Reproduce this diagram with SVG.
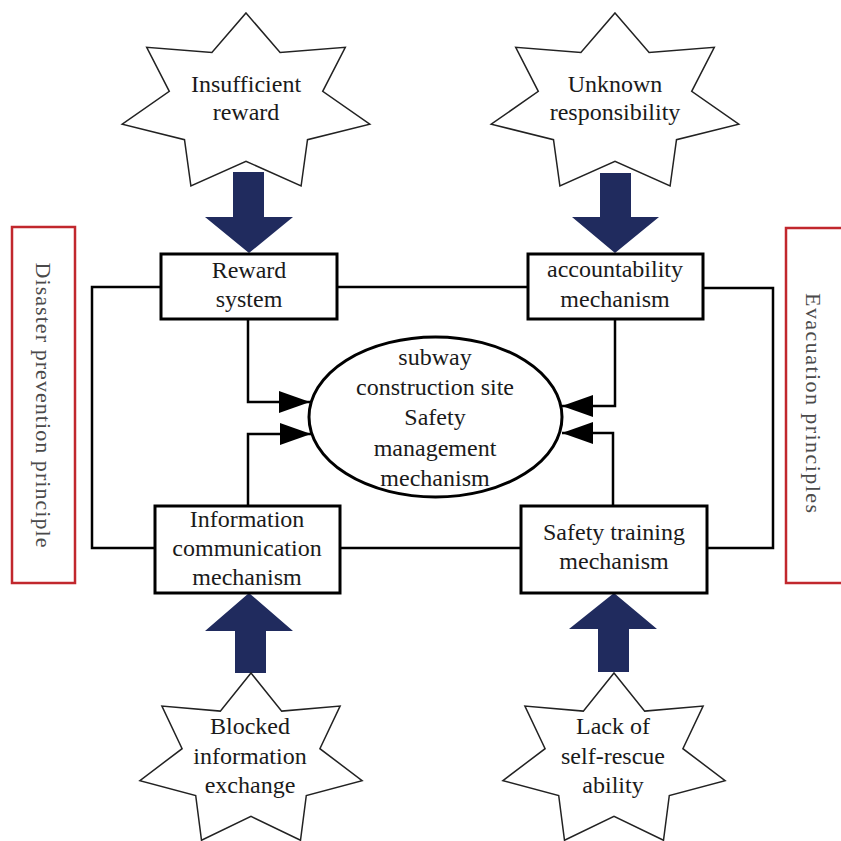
<svg xmlns="http://www.w3.org/2000/svg" width="841" height="841" viewBox="0 0 841 841">
<style>
  .t { font-family: "Liberation Serif", "Times New Roman", serif; font-size: 24px; fill: #1a1a1a; text-anchor: middle; }
  .side { font-family: "Liberation Serif", "Times New Roman", serif; font-size: 22px; fill: #4a4a4a; text-anchor: middle; }
  .star { fill: #ffffff; stroke: #222222; stroke-width: 1.5; stroke-linejoin: miter; }
  .box { fill: #ffffff; stroke: #000000; stroke-width: 3; }
  .blue { fill: #202b5e; }
  .red { fill: #ffffff; stroke: #c1272d; stroke-width: 2.5; }
  .con { fill: none; stroke: #000000; stroke-width: 2.5; }
</style>
<defs>
  <polygon id="starA" points="0,-91 34.1,-51.6 99.3,-56.7 76.7,-12.7 123.8,20.2 61.5,35.7 55.1,82 0,57.3 -55.1,82 -61.5,35.7 -123.8,20.2 -76.7,-12.7 -99.3,-56.7 -34.1,-51.6"/>
  <polygon id="starB" points="0,-88 30.7,-49.9 89.1,-54.9 68.9,-12.3 111.1,19.6 55.3,34.5 49.5,79.3 0,55.4 -49.5,79.3 -55.3,34.5 -111.1,19.6 -68.9,-12.3 -89.1,-54.9 -30.7,-49.9"/>
  <marker id="ah" viewBox="0 0 31 22" refX="31" refY="11" markerWidth="31" markerHeight="22" markerUnits="userSpaceOnUse" orient="auto">
    <path d="M0,0 L31,11 L0,22 Z" fill="#000000"/>
  </marker>
</defs>

<g id="side-left">
  <rect class="red" x="12" y="227" width="63" height="356"/>
  <text class="side" transform="translate(36,405) rotate(90)" textLength="285" lengthAdjust="spacing">Disaster prevention principle</text>
</g>
<g id="side-right">
  <rect class="red" x="786" y="228" width="70" height="355"/>
  <text class="side" transform="translate(806,403) rotate(90)" textLength="220" lengthAdjust="spacing">Evacuation principles</text>
</g>

<g id="connectors">
  <path class="con" d="M161,287 H92 V548 H155"/>
  <path class="con" d="M337,287 H528"/>
  <path class="con" d="M703,288 H773 V548 H707"/>
  <path class="con" d="M340,548 H521"/>
  <path class="con" d="M248,319 V402 H310" marker-end="url(#ah)"/>
  <path class="con" d="M248,506 V434 H311" marker-end="url(#ah)"/>
  <path class="con" d="M615,319 V406 H562" marker-end="url(#ah)"/>
  <path class="con" d="M613,506 V433 H562" marker-end="url(#ah)"/>
  <polygon class="blue" points="233,172 264,172 264,217 293,217 249,253 205,217 233,217"/>
  <polygon class="blue" points="600,173 631,173 631,217 659,217 615,253 572,217 600,217"/>
  <polygon class="blue" points="249,593 293,631 266,631 266,673 235,673 235,631 205,631"/>
  <polygon class="blue" points="614,593 657,629 629,629 629,672 598,672 598,629 569,629"/>
</g>

<g id="star-insufficient">
  <use href="#starA" class="star" transform="translate(246,104)"/>
  <text class="t" x="246" y="92">Insufficient</text>
  <text class="t" x="246" y="120">reward</text>
</g>
<g id="star-unknown">
  <use href="#starA" class="star" transform="translate(615,104)"/>
  <text class="t" x="615" y="92">Unknown</text>
  <text class="t" x="615" y="120">responsibility</text>
</g>
<g id="star-blocked">
  <use href="#starB" class="star" transform="translate(251,761)"/>
  <text class="t" x="250" y="734">Blocked</text>
  <text class="t" x="250" y="764">information</text>
  <text class="t" x="250" y="793">exchange</text>
</g>
<g id="star-lack">
  <use href="#starB" class="star" transform="translate(614,761)"/>
  <text class="t" x="613" y="734">Lack of</text>
  <text class="t" x="613" y="764">self-rescue</text>
  <text class="t" x="613" y="793">ability</text>
</g>

<g id="box-reward">
  <rect class="box" x="161" y="254" width="176" height="65"/>
  <text class="t" x="249" y="278">Reward</text>
  <text class="t" x="249" y="307">system</text>
</g>
<g id="box-accountability">
  <rect class="box" x="528" y="254" width="175" height="65"/>
  <text class="t" x="615" y="277">accountability</text>
  <text class="t" x="615" y="307">mechanism</text>
</g>
<g id="box-information">
  <rect class="box" x="155" y="506" width="185" height="87"/>
  <text class="t" x="247" y="527">Information</text>
  <text class="t" x="247" y="556">communication</text>
  <text class="t" x="247" y="585">mechanism</text>
</g>
<g id="box-training">
  <rect class="box" x="521" y="506" width="186" height="87"/>
  <text class="t" x="614" y="540">Safety training</text>
  <text class="t" x="614" y="569">mechanism</text>
</g>

<g id="center">
  <ellipse cx="435.5" cy="417" rx="126.5" ry="80" fill="#ffffff" stroke="#000000" stroke-width="3"/>
  <text class="t" x="435" y="365">subway</text>
  <text class="t" x="435" y="395">construction site</text>
  <text class="t" x="435" y="425">Safety</text>
  <text class="t" x="435" y="456">management</text>
  <text class="t" x="435" y="486">mechanism</text>
</g>
</svg>
